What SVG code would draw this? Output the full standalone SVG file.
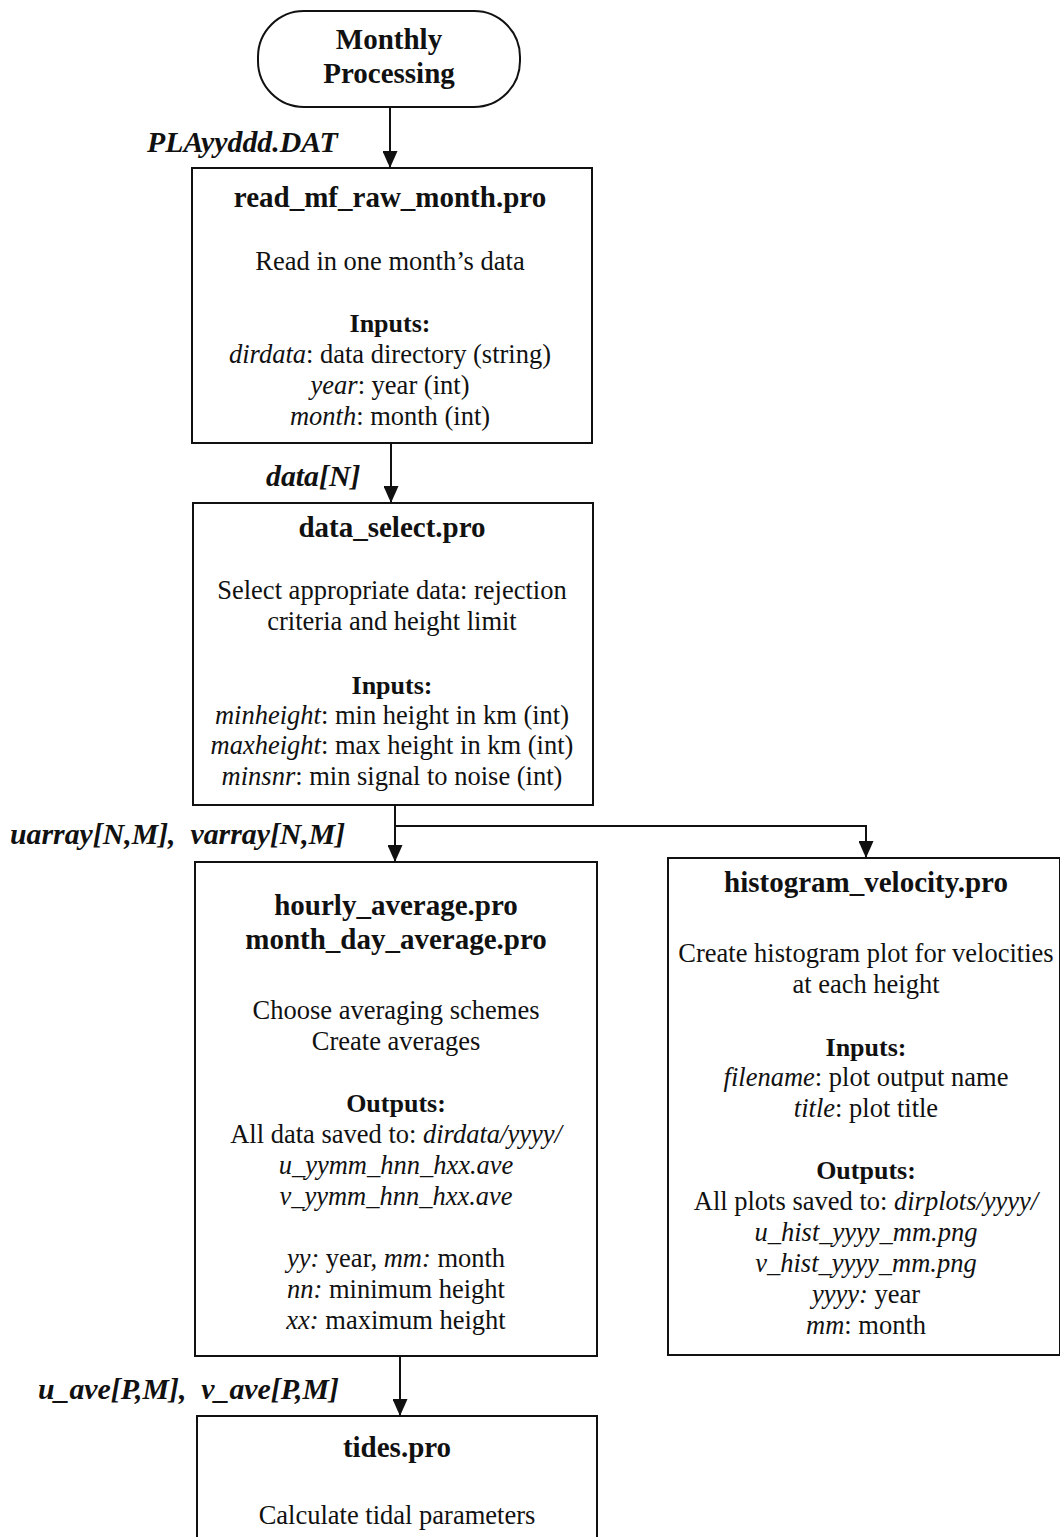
<svg xmlns="http://www.w3.org/2000/svg" width="1060" height="1537" viewBox="0 0 1060 1537">
  <style>
    text { font-family: "Liberation Serif", "Times New Roman", serif; fill: #111; }
    .t { font-size: 26.5px; text-anchor: middle; }
    .h { font-size: 29px; font-weight: bold; text-anchor: middle; }
    .s { font-size: 26px; font-weight: bold; text-anchor: middle; }
    .lbl { font-size: 29.8px; font-weight: bold; font-style: italic; }
    .i { font-style: italic; }
    .box { fill: #fff; stroke: #111; stroke-width: 2; }
    .edge { fill: none; stroke: #111; stroke-width: 2; }
  </style>
  <defs>
    <marker id="arrow" markerWidth="17" markerHeight="15" refX="16" refY="7.5" orient="auto" markerUnits="userSpaceOnUse" viewBox="0 0 17 15">
      <path d="M0,0 L17,7.5 L0,15 Z" fill="#111"/>
    </marker>
  </defs>
  <rect width="1060" height="1537" fill="#fff"/>

  <!-- connectors -->
  <g id="connectors">
    <line class="edge" x1="390" y1="107" x2="390" y2="167" marker-end="url(#arrow)"/>
    <line class="edge" x1="391" y1="443" x2="391" y2="502" marker-end="url(#arrow)"/>
    <line class="edge" x1="395" y1="805" x2="395" y2="861" marker-end="url(#arrow)"/>
    <polyline class="edge" points="395,826 866,826 866,857" marker-end="url(#arrow)"/>
    <line class="edge" x1="400" y1="1356" x2="400" y2="1415" marker-end="url(#arrow)"/>
    <text class="lbl" x="147" y="152">PLAyyddd.DAT</text>
    <text class="lbl" x="266" y="486">data[N]</text>
    <text class="lbl" x="10" y="844" xml:space="preserve">uarray[N,M],  varray[N,M]</text>
    <text class="lbl" x="38" y="1399" xml:space="preserve">u_ave[P,M],  v_ave[P,M]</text>
  </g>

  <!-- start terminal -->
  <g id="start">
    <rect class="box" x="258" y="11" width="262" height="96" rx="46" ry="46"/>
    <text class="h" x="389" y="49">Monthly</text>
    <text class="h" x="389" y="83">Processing</text>
  </g>

  <g id="read_mf_raw_month">
    <rect class="box" x="192" y="168" width="400" height="275"/>
    <text class="h" x="390" y="207">read_mf_raw_month.pro</text>
    <text class="t" x="390" y="270">Read in one month’s data</text>
    <text class="s" x="390" y="332">Inputs:</text>
    <text class="t" x="390" y="363"><tspan class="i">dirdata</tspan>: data directory (string)</text>
    <text class="t" x="390" y="394"><tspan class="i">year</tspan>: year (int)</text>
    <text class="t" x="390" y="425"><tspan class="i">month</tspan>: month (int)</text>
  </g>

  <g id="data_select">
    <rect class="box" x="193" y="503" width="400" height="302"/>
    <text class="h" x="392" y="537">data_select.pro</text>
    <text class="t" x="392" y="599">Select appropriate data: rejection</text>
    <text class="t" x="392" y="630">criteria and height limit</text>
    <text class="s" x="392" y="694">Inputs:</text>
    <text class="t" x="392" y="724"><tspan class="i">minheight</tspan>: min height in km (int)</text>
    <text class="t" x="392" y="754"><tspan class="i">maxheight</tspan>: max height in km (int)</text>
    <text class="t" x="392" y="785"><tspan class="i">minsnr</tspan>: min signal to noise (int)</text>
  </g>

  <g id="averaging">
    <rect class="box" x="195" y="862" width="402" height="494"/>
    <text class="h" x="396" y="915">hourly_average.pro</text>
    <text class="h" x="396" y="949">month_day_average.pro</text>
    <text class="t" x="396" y="1019">Choose averaging schemes</text>
    <text class="t" x="396" y="1050">Create averages</text>
    <text class="s" x="396" y="1112">Outputs:</text>
    <text class="t" x="396" y="1143">All data saved to: <tspan class="i">dirdata/yyyy/</tspan></text>
    <text class="t i" x="396" y="1174">u_yymm_hnn_hxx.ave</text>
    <text class="t i" x="396" y="1205">v_yymm_hnn_hxx.ave</text>
    <text class="t" x="396" y="1267"><tspan class="i">yy:</tspan> year, <tspan class="i">mm:</tspan> month</text>
    <text class="t" x="396" y="1298"><tspan class="i">nn:</tspan> minimum height</text>
    <text class="t" x="396" y="1329"><tspan class="i">xx:</tspan> maximum height</text>
  </g>

  <g id="histogram_velocity">
    <rect class="box" x="668" y="858" width="392" height="497"/>
    <text class="h" x="866" y="892">histogram_velocity.pro</text>
    <text class="t" x="866" y="962">Create histogram plot for velocities</text>
    <text class="t" x="866" y="993">at each height</text>
    <text class="s" x="866" y="1056">Inputs:</text>
    <text class="t" x="866" y="1086"><tspan class="i">filename</tspan>: plot output name</text>
    <text class="t" x="866" y="1117"><tspan class="i">title</tspan>: plot title</text>
    <text class="s" x="866" y="1179">Outputs:</text>
    <text class="t" x="866" y="1210">All plots saved to: <tspan class="i">dirplots/yyyy/</tspan></text>
    <text class="t i" x="866" y="1241">u_hist_yyyy_mm.png</text>
    <text class="t i" x="866" y="1272">v_hist_yyyy_mm.png</text>
    <text class="t" x="866" y="1303"><tspan class="i">yyyy:</tspan> year</text>
    <text class="t" x="866" y="1334"><tspan class="i">mm</tspan>: month</text>
  </g>

  <g id="tides">
    <rect class="box" x="197" y="1416" width="400" height="140"/>
    <text class="h" x="397" y="1457">tides.pro</text>
    <text class="t" x="397" y="1524">Calculate tidal parameters</text>
  </g>
</svg>
